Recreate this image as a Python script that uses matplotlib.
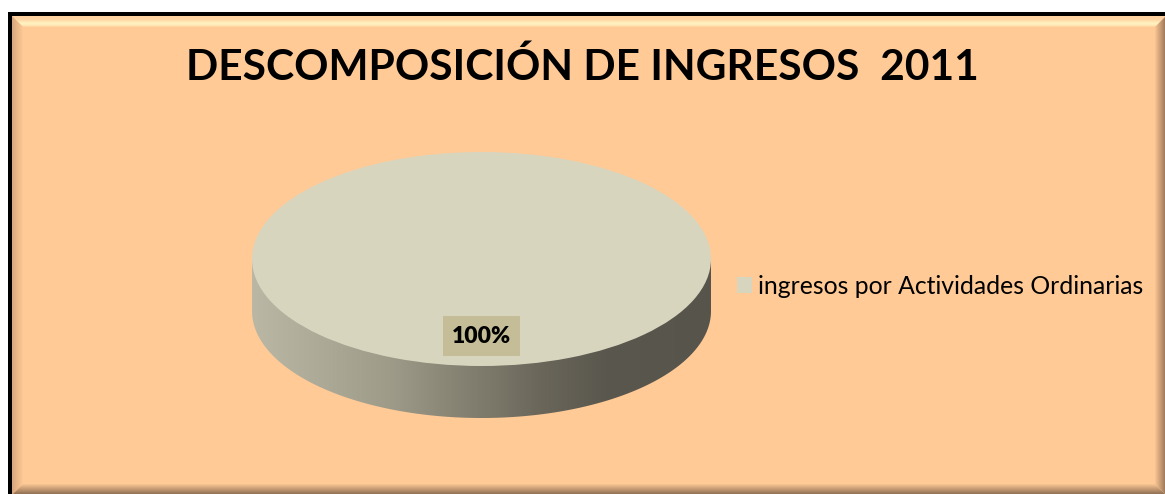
import numpy as np
import matplotlib
matplotlib.use('Agg')
import matplotlib.pyplot as plt
from matplotlib.patches import Polygon, Rectangle, PathPatch
from matplotlib.path import Path
from matplotlib.colors import LinearSegmentedColormap, to_rgb

# ---- data ----
title = "DESCOMPOSICIÓN DE INGRESOS  2011"
categories = ["ingresos por Actividades Ordinarias"]
values = [100]

W, H = 1165, 494
fig = plt.figure(figsize=(W / 100, H / 100), dpi=100)
fig.patch.set_facecolor('white')

# ---- background frame (pixel coordinates) ----
bg = fig.add_axes([0, 0, 1, 1])
bg.set_xlim(0, W)
bg.set_ylim(H, 0)
bg.axis('off')
PEACH = '#FFCA96'
bg.add_patch(Rectangle((8, 12), W + 20, H + 20, facecolor='black', edgecolor='none'))
x0, y0, x1, y1 = 12, 16, 1166, 495
bg.add_patch(Rectangle((x0, y0), x1 - x0, y1 - y0, facecolor=PEACH, edgecolor='none'))


def mix(c1, c2, t):
    a, b = np.array(to_rgb(c1)), np.array(to_rgb(c2))
    return tuple(a + (b - a) * t)


b = 12
for k in range(b):
    t = k / (b - 1)
    prof = np.exp(-((k - 7) / 3.0) ** 2)
    ctop = mix('#FFD2A0', '#FFF0BE', prof) if k < 9 else mix('#FFF0BE', PEACH, (k - 8) / 3)
    bg.add_patch(Polygon([(x0 + k, y0 + k), (x1 - k, y0 + k), (x1 - k - 1, y0 + k + 1), (x0 + k + 1, y0 + k + 1)],
                         closed=True, facecolor=ctop, edgecolor='none'))
    cl = mix('#D9A77E', PEACH, t)
    bg.add_patch(Polygon([(x0 + k, y0 + k), (x0 + k + 1, y0 + k + 1), (x0 + k + 1, y1 - k - 1), (x0 + k, y1 - k)],
                         closed=True, facecolor=cl, edgecolor='none'))
    cb = mix('#8A6A50', PEACH, t)
    bg.add_patch(Polygon([(x0 + k, y1 - k), (x1 - k, y1 - k), (x1 - k - 1, y1 - k - 1), (x0 + k + 1, y1 - k - 1)],
                         closed=True, facecolor=cb, edgecolor='none'))
    cr = mix('#9A7658', PEACH, t)
    bg.add_patch(Polygon([(x1 - k, y0 + k), (x1 - k - 1, y0 + k + 1), (x1 - k - 1, y1 - k - 1), (x1 - k, y1 - k)],
                         closed=True, facecolor=cr, edgecolor='none'))

# ---- title ----
fig.text(0.5, 1 - 80 / H, title, ha='center', va='baseline', fontsize=30.6,
         fontweight='bold', family='Lato', color='black')

# ---- 3D-looking pie ----
L, R, T, B = 252, 711, 152, 418
ax = fig.add_axes([L / W, 1 - B / H, (R - L) / W, (B - T) / H])
depth = 0.486
wedges, texts, autotexts = ax.pie(
    values, colors=['#D8D5BF'], startangle=90, autopct='%1.0f%%', pctdistance=0.72,
    wedgeprops=dict(linewidth=0),
    textprops=dict(fontsize=16.5, fontweight='heavy', family='Lato', color='black'))
for at in autotexts:
    at.set_bbox(dict(boxstyle='square,pad=0.4', facecolor='#C4BD97', edgecolor='none'))
ax.set_aspect('auto')

# side wall with horizontal gradient
cmap = LinearSegmentedColormap.from_list('side', [
    (0.0, '#BAB8A5'), (0.3, '#9F9B89'), (0.48, '#827E6F'),
    (0.63, '#6A665A'), (0.77, '#5A574E'), (1.0, '#57544C')])
grad = np.linspace(0, 1, 256).reshape(1, -1)
im = ax.imshow(grad, cmap=cmap, extent=(-1, 1, -1 - depth, 0), aspect='auto', zorder=0.5,
               interpolation='bilinear')
th = np.linspace(0, -np.pi, 200)
verts = [(-1, 0), (1, 0)] + list(zip(np.cos(th), np.sin(th) - depth)) + [(-1, 0)]
clip = PathPatch(Path(verts, closed=True), transform=ax.transData, facecolor='none', edgecolor='none')
ax.add_patch(clip)
im.set_clip_path(clip)
ax.set_xlim(-1, 1)
ax.set_ylim(-1 - depth, 1)
ax.axis('off')

# ---- legend ----
fs = 17.8
fig.legend(wedges, categories, loc='center left', bbox_to_anchor=(737 / W, 1 - 286 / H),
           frameon=False, prop=dict(family='Lato', size=fs), handlelength=0.61, handleheight=0.61,
           handletextpad=0.24, borderpad=0, borderaxespad=0)

fig.savefig('out.png', dpi=100, facecolor=fig.get_facecolor())
